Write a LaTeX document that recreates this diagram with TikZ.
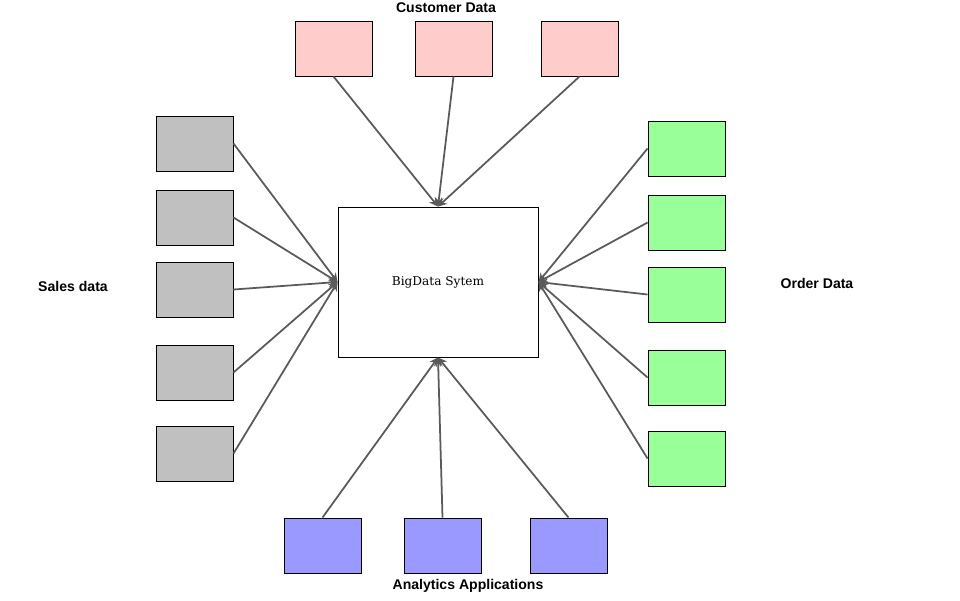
\documentclass[tikz,border=0pt]{standalone}
\usepackage{fontspec}
\setmainfont{Liberation Sans}
\newfontfamily\coreserif{DejaVu Serif}
\usetikzlibrary{arrows.meta}
\definecolor{salesgray}{HTML}{C0C0C0}
\definecolor{custpink}{HTML}{FFCCCC}
\definecolor{ordergreen}{HTML}{99FF99}
\definecolor{appblue}{HTML}{9999FF}
\definecolor{linkgray}{HTML}{5A5A5A}
\begin{document}
\begin{tikzpicture}[x=0.02cm, y=-0.02cm,
   every node/.style={inner sep=0pt},
   source/.style={draw, line width=0.55pt, minimum width=1.54cm, minimum height=1.1cm},
   sales/.style={source, fill=salesgray},
   customer/.style={source, fill=custpink},
   order/.style={source, fill=ordergreen},
   app/.style={source, fill=appblue},
   group/.style={font=\bfseries\fontsize{8}{9.5}\selectfont},
   link/.style={draw=linkgray, line width=1pt, -{Stealth[length=5pt, width=5pt]}}]

\useasboundingbox (0,0) rectangle (960,600);

\node[draw, line width=0.55pt, fill=white, minimum width=4cm, minimum height=3cm,
      font=\coreserif\fontsize{6.9}{8}\selectfont] (core) at (438,282) {BigData Sytem};

\node[group] (customerlabel) at (446,8) {Customer Data};
\node[group] (saleslabel) at (73,286) {Sales data};
\node[group] (orderlabel) at (817,283) {Order Data};
\node[group] (applabel) at (468,586) {Analytics Applications};

\foreach \y [count=\i] in {143.5,217.5,289.5,372.5,453.5}
  {\node[sales] (s\i) at (194.5,\y) {};
   \draw[link] (s\i.east) -- (core.west);}

\foreach \y [count=\i] in {148.5,222.5,294.5,377.5,458.5}
  {\node[order] (o\i) at (686.5,\y) {};
   \draw[link] (o\i.west) -- (core.east);}

\foreach \x [count=\i] in {333.5,453.5,579.5}
  {\node[customer] (c\i) at (\x,48.5) {};
   \draw[link] (c\i.south) -- (core.north);}

\foreach \x [count=\i] in {322.5,442.5,568.5}
  {\node[app] (a\i) at (\x,545.5) {};
   \draw[link] (a\i.north) -- (core.south);}

\end{tikzpicture}
\end{document}
